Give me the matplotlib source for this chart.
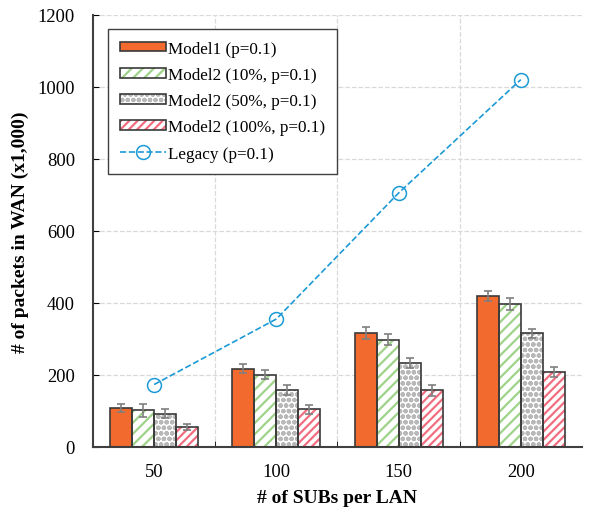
import numpy as np
import matplotlib.pyplot as plt
from matplotlib.patches import Patch
from matplotlib.legend_handler import HandlerTuple

plt.rcParams['font.family'] = ['Liberation Serif', 'DejaVu Serif']
plt.rcParams['hatch.linewidth'] = 1.6

subs = ["50", "100", "150", "200"]
model1 = [107, 217, 316, 419]
model2_10 = [101, 200, 297, 396]
model2_50 = [92, 157, 233, 315]
model2_100 = [55, 104, 157, 208]
legacy = [173, 355, 705, 1020]
err_model1 = [11, 12, 17, 14]
err_model2_10 = [17, 13, 15, 17]
err_model2_50 = [13, 14, 15, 13]
err_model2_100 = [9, 13, 16, 14]

fig = plt.figure(figsize=(5.89, 5.10), dpi=100)
ax = fig.add_axes([0.158, 0.122, 0.830, 0.847])

x = np.arange(len(subs))
w = 0.18
series = [
    ("Model1 (p=0.1)", model1, err_model1, "#f26a2e", None, "#f26a2e"),
    ("Model2 (10%, p=0.1)", model2_10, err_model2_10, "white", "///", "#9fd38a"),
    ("Model2 (50%, p=0.1)", model2_50, err_model2_50, "white", "ooo", "#b8b8b8"),
    ("Model2 (100%, p=0.1)", model2_100, err_model2_100, "white", "////", "#f26d80"),
]
handles = []
labels = []
for i, (lab, vals, err, fc, hatch, hc) in enumerate(series):
    pos = x + (i - 1.5) * w
    ax.bar(pos, vals, w, color=fc, hatch=hatch, edgecolor=hc, linewidth=0, zorder=2)
    ax.bar(pos, vals, w, fill=False, edgecolor="#3a3a3a", linewidth=1.2, zorder=3)
    ax.errorbar(pos, vals, yerr=err, fmt="none", ecolor="#7f7f7f", elinewidth=1.2,
                capsize=3, capthick=1.2, zorder=4)
    h1 = Patch(facecolor=fc, hatch=hatch, edgecolor=hc, linewidth=0)
    h2 = Patch(fill=False, edgecolor="#3a3a3a", linewidth=1.2)
    handles.append((h1, h2))
    labels.append(lab)

line, = ax.plot(x, legacy, linestyle="--", color="#1c9ad6", marker="o", markersize=10,
                markerfacecolor="none", markeredgewidth=1.1, linewidth=1.2, zorder=5)
handles.append(line)
labels.append("Legacy (p=0.1)")

ax.set_xlim(-0.5, 3.5)
ax.set_ylim(0, 1200)
ax.set_yticks(range(0, 1201, 200))
ax.set_xticks(x)
ax.set_xticklabels(subs)
ax.set_xticks([0.5, 1.5, 2.5], minor=True)
ax.tick_params(axis="x", which="major", length=0, labelsize=13.3, pad=12)
ax.tick_params(axis="x", which="minor", direction="in", length=4)
ax.tick_params(axis="y", direction="in", length=4, labelsize=13.3, pad=13)
ax.grid(axis="y", which="major", linestyle="--", color="#d9d9d9", linewidth=0.9, zorder=0)
ax.grid(axis="x", which="minor", linestyle="--", color="#d9d9d9", linewidth=0.9, zorder=0)
ax.set_axisbelow(True)
for s in ["top", "right"]:
    ax.spines[s].set_visible(False)
for s in ["left", "bottom"]:
    ax.spines[s].set_color("#404040")
    ax.spines[s].set_linewidth(1.5)

ax.set_xlabel("# of SUBs per LAN", fontsize=14, fontweight="bold", labelpad=6)
ax.set_ylabel("# of packets in WAN (x1,000)", fontsize=14, fontweight="bold", labelpad=6)

leg = ax.legend(handles, labels, handler_map={tuple: HandlerTuple(ndivide=1)},
                loc="upper left", bbox_to_anchor=(0.031, 0.968), fontsize=12.3,
                frameon=True, fancybox=False, edgecolor="#404040", framealpha=1,
                handlelength=2.7, handleheight=0.5, handletextpad=0.1,
                labelspacing=0.6, borderpad=0.7, borderaxespad=0)
leg.get_frame().set_linewidth(1.0)

fig.savefig("out.png", dpi=100)
